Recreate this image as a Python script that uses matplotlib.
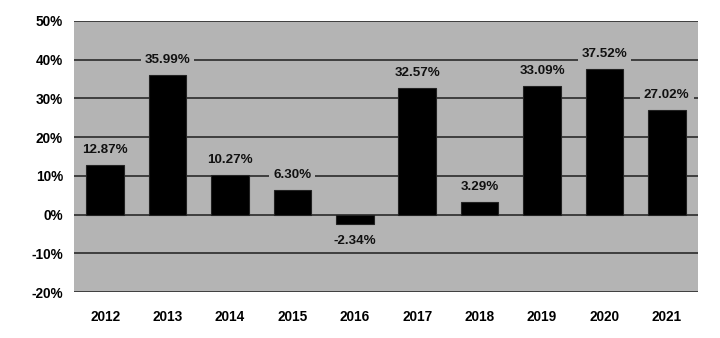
import numpy as np
import matplotlib.pyplot as plt

years = ['2012', '2013', '2014', '2015', '2016', '2017', '2018', '2019', '2020', '2021']
returns = [12.87, 35.99, 10.27, 6.30, -2.34, 32.57, 3.29, 33.09, 37.52, 27.02]
yticks = [-20, -10, 0, 10, 20, 30, 40, 50]

bg = '#b4b4b4'
plt.rcParams['font.family'] = ['Liberation Sans', 'DejaVu Sans']

fig = plt.figure(figsize=(7.2, 3.38), dpi=100)
ax = fig.add_axes([74 / 720, 1 - 292 / 338, 624 / 720, 271 / 338])
ax.set_facecolor(bg)

x = np.arange(len(years))
ax.set_xlim(-0.5, len(years) - 0.5)
ax.set_ylim(-20, 50)

for t in yticks:
    ax.axhline(t, color='#2a2a2a', lw=1.2, zorder=1)

ax.bar(x, returns, width=0.6, color='black', edgecolor='#222222', lw=0.8, zorder=2)

# labels above / below the bars, boxed so they hide the gridlines
for xi, v in zip(x, returns):
    off = 15 if v >= 0 else -17
    ax.annotate(f'{v:.2f}%', (xi, v), xytext=(0, off), textcoords='offset pixels',
                ha='center', va='center', fontsize=9.6, fontweight='bold', color='#111111', zorder=4,
                bbox=dict(boxstyle='square,pad=0.3', fc=bg, ec='none'))

ax.set_xticks(x)
ax.set_xticklabels(years, fontsize=9.8, fontweight='bold')
ax.set_yticks(yticks)
ax.set_yticklabels([f'{t}%' for t in yticks], fontsize=9.8, fontweight='bold')
ax.tick_params(axis='x', length=0, pad=13)
ax.tick_params(axis='y', length=0, pad=8)
for s in ax.spines.values():
    s.set_visible(False)

fig.savefig('out.png', dpi=100)
